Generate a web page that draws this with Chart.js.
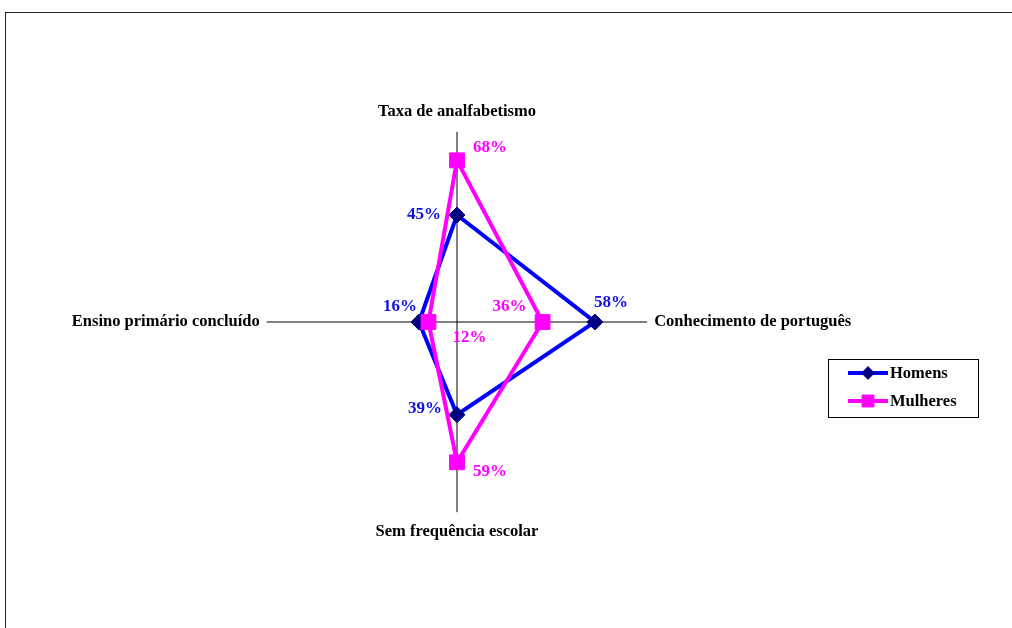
<!DOCTYPE html>
<html>
<head>
<meta charset="utf-8">
<script src="https://cdn.jsdelivr.net/npm/chart.js@4"></script>
<style>
  body { margin: 0; background: #fff; }
</style>
</head>
<body>
<canvas id="radar" width="1012" height="628"></canvas>
<script>
const categories = ["Taxa de analfabetismo", "Conhecimento de português", "Sem frequência escolar", "Ensino primário concluído"];
const homens = [45, 58, 39, 16];
const mulheres = [68, 36, 59, 12];
const scaleMax = 80;

// where each value label sits relative to its point (px)
const homensLabelOffsets = [[-33, 0], [16, -19], [-32, -6], [-19, -15]];
const mulheresLabelOffsets = [[33, -13], [-33, -15], [33, 9], [41, 16]];

const serif = "'Liberation Serif', 'Times New Roman', serif";

const frame = {
  id: "frame",
  beforeDraw(chart) {
    const ctx = chart.ctx;
    ctx.save();
    ctx.strokeStyle = "#222";
    ctx.lineWidth = 1;
    ctx.strokeRect(5.5, 12.5, 1100, 700);
    ctx.restore();
  }
};

const valueLabels = {
  id: "valueLabels",
  afterDatasetsDraw(chart, args, opts) {
    const ctx = chart.ctx;
    ctx.save();
    ctx.font = "bold 17px " + serif;
    ctx.textAlign = "center";
    ctx.textBaseline = "middle";
    chart.data.datasets.forEach((ds, di) => {
      const meta = chart.getDatasetMeta(di);
      ctx.fillStyle = opts.colors[di];
      meta.data.forEach((pt, i) => {
        const off = opts.offsets[di][i];
        ctx.fillText(ds.data[i] + "%", pt.x + off[0], pt.y + off[1]);
      });
    });
    ctx.restore();
  }
};

const boxLegend = {
  id: "boxLegend",
  afterDraw(chart) {
    const ctx = chart.ctx;
    ctx.save();
    ctx.strokeStyle = "#000";
    ctx.lineWidth = 1;
    ctx.strokeRect(828.5, 359.5, 150, 58);
    chart.data.datasets.forEach((ds, i) => {
      const y = 373 + i * 28;
      ctx.strokeStyle = ds.borderColor;
      ctx.lineWidth = 4;
      ctx.beginPath();
      ctx.moveTo(848, y);
      ctx.lineTo(888, y);
      ctx.stroke();
      ctx.fillStyle = ds.pointBackgroundColor;
      ctx.strokeStyle = ds.pointBorderColor;
      ctx.lineWidth = 1;
      Chart.helpers.drawPoint(ctx, { pointStyle: ds.pointStyle, radius: ds.pointRadius * 0.8, rotation: 0, borderWidth: 1 }, 868, y);
      ctx.fillStyle = "#000";
      ctx.font = "bold 16.5px " + serif;
      ctx.textAlign = "left";
      ctx.textBaseline = "middle";
      ctx.fillText(ds.label, 890, y + 1);
    });
    ctx.restore();
  }
};

new Chart(document.getElementById("radar"), {
  type: "radar",
  data: {
    labels: categories,
    datasets: [
      {
        label: "Homens",
        data: homens,
        order: 1,
        fill: false,
        borderColor: "#0000ff",
        backgroundColor: "transparent",
        borderWidth: 4,
        pointStyle: "rectRot",
        pointRadius: 8,
        pointBackgroundColor: "#000080",
        pointBorderColor: "#000080",
        pointBorderWidth: 1
      },
      {
        label: "Mulheres",
        data: mulheres,
        order: 0,
        fill: false,
        borderColor: "#ff00ff",
        backgroundColor: "transparent",
        borderWidth: 4,
        pointStyle: "rect",
        pointRadius: 10.5,
        pointBackgroundColor: "#ff00ff",
        pointBorderColor: "#ff00ff",
        pointBorderWidth: 1
      }
    ]
  },
  options: {
    responsive: false,
    animation: false,
    layout: { padding: { left: 10, right: 108, top: 102, bottom: 86 } },
    elements: { line: { tension: 0 } },
    plugins: {
      legend: { display: false },
      tooltip: { enabled: false },
      valueLabels: {
        colors: ["#1010e0", "#ff00ff"],
        offsets: [homensLabelOffsets, mulheresLabelOffsets]
      }
    },
    scales: {
      r: {
        min: 0,
        max: scaleMax,
        ticks: { display: false, stepSize: 10 },
        grid: { display: false },
        angleLines: { color: "#000", lineWidth: 1 },
        pointLabels: {
          color: "#000",
          font: { family: serif, size: 16.5, weight: "bold" },
          padding: (c) => (c.index % 2 === 0 ? 10 : 7)
        }
      }
    }
  },
  plugins: [frame, valueLabels, boxLegend]
});
</script>
</body>
</html>
